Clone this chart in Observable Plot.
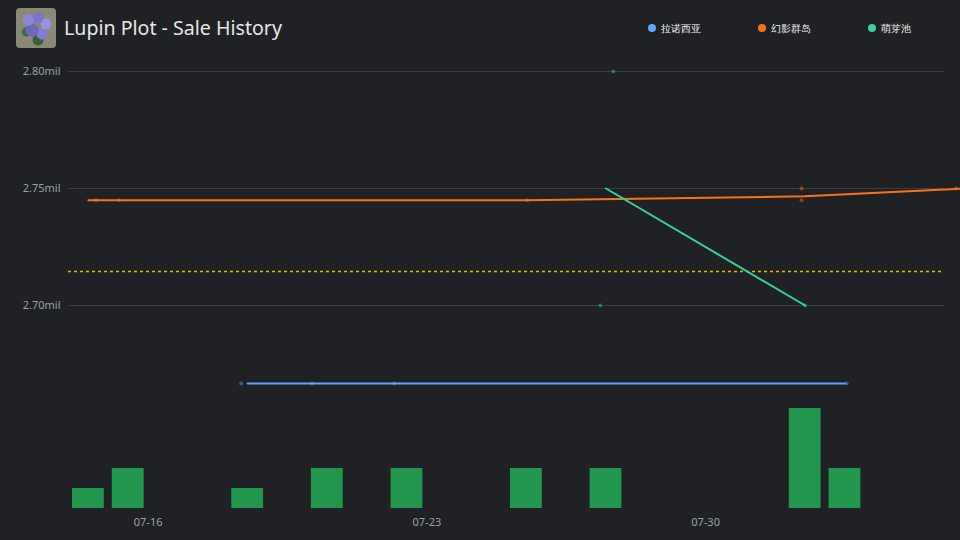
<!DOCTYPE html>
<html><head><meta charset="utf-8">
<script src="https://cdn.jsdelivr.net/npm/d3@7"></script>
<script src="https://cdn.jsdelivr.net/npm/@observablehq/plot@0.6"></script>
<style>
html,body{margin:0;padding:0;background:#202124;width:960px;height:540px;overflow:hidden;font-family:"Noto Sans",sans-serif;}
#header{position:relative;height:56px;width:960px;}
#icon{position:absolute;left:16px;top:8px;width:40px;height:40px;border-radius:4px;
 background:
  radial-gradient(circle at 30% 30%, #8f86d8 0 5px, transparent 6px),
  radial-gradient(circle at 55% 25%, #7d73cc 0 5px, transparent 6px),
  radial-gradient(circle at 75% 40%, #9b92e0 0 5px, transparent 6px),
  radial-gradient(circle at 40% 55%, #6f66c0 0 6px, transparent 7px),
  radial-gradient(circle at 65% 65%, #857cd2 0 5px, transparent 6px),
  radial-gradient(circle at 25% 60%, #3f6b3a 0 4px, transparent 5px),
  radial-gradient(circle at 55% 80%, #3b5f36 0 5px, transparent 6px),
  #8a8877;}
#title{position:absolute;left:64px;top:18px;font-size:19.6px;line-height:20px;color:#e6e6e6;white-space:nowrap;}
.lg{position:absolute;top:22px;height:12px;display:flex;align-items:center;font-size:10px;color:#f0f0f0;white-space:nowrap;}
.lg .dot{width:8px;height:8px;border-radius:50%;margin-right:5px;}
#chart{position:relative;width:960px;height:484px;}
#chart svg{position:absolute;left:0;top:0;}
</style></head><body>
<div id="header">
 <div id="icon"></div>
 <div id="title">Lupin Plot - Sale History</div>
</div>
<div id="chart"></div>
<script>
// ---- data ----
const seriesNames = ["拉诺西亚", "幻影群岛", "萌芽池"];
const seriesColors = ["#60a5fa", "#f97316", "#34d399"];

// individual sales (time, price)
const blueSaleTimes = ["2023-07-18T08:05Z", "2023-07-20T02:50Z", "2023-07-22T04:20Z", "2023-08-02T13:00Z"];
const blueSalePrices = [2666667, 2666667, 2666667, 2666667];
const orangeSaleTimes = ["2023-07-14T16:40Z", "2023-07-15T06:30Z", "2023-07-25T12:30Z", "2023-08-01T09:50Z", "2023-08-01T09:50Z", "2023-08-05T07:00Z"];
const orangeSalePrices = [2745000, 2745000, 2745000, 2750000, 2745000, 2750000];
const greenSaleTimes = ["2023-07-27T08:35Z", "2023-07-27T16:20Z", "2023-08-01T12:00Z"];
const greenSalePrices = [2700000, 2800000, 2700000];

// daily average prices
const blueAvgDays = ["2023-07-18", "2023-07-20", "2023-07-22", "2023-08-02"];
const blueAvgPrices = [2666667, 2666667, 2666667, 2666667];
const orangeAvgDays = ["2023-07-14", "2023-07-15", "2023-07-25", "2023-08-01", "2023-08-05"];
const orangeAvgPrices = [2745000, 2745000, 2745000, 2746667, 2750000];
const greenAvgDays = ["2023-07-27", "2023-08-01"];
const greenAvgPrices = [2750000, 2700000];

// daily volume
const volumeDays = ["2023-07-14", "2023-07-15", "2023-07-18", "2023-07-20", "2023-07-22", "2023-07-25", "2023-07-27", "2023-08-01", "2023-08-02"];
const volumeQty = [1, 2, 1, 2, 2, 2, 2, 5, 2];

const meanPrice = 2714500;
const yTicks = [2700000, 2750000, 2800000];
const xTicks = ["2023-07-16", "2023-07-23", "2023-07-30"];
const xDomain = ["2023-07-14", "2023-08-05"];

// ---- build ----
const parse = s => new Date(s.length === 10 ? s + "T00:00:00Z" : s);
const noon = s => d3.utcHour.offset(parse(s), 12);
const sales = (times, prices, k) => times.map((t, i) => ({t: parse(t), p: prices[i], k}));
const avgs = (days, prices, k) => days.map((d, i) => ({t: noon(d), p: prices[i], k}));
const salesAll = [
  ...sales(blueSaleTimes, blueSalePrices, 0),
  ...sales(orangeSaleTimes, orangeSalePrices, 1),
  ...sales(greenSaleTimes, greenSalePrices, 2)
];
const avgSeries = [
  avgs(blueAvgDays, blueAvgPrices, 0),
  avgs(orangeAvgDays, orangeAvgPrices, 1),
  avgs(greenAvgDays, greenAvgPrices, 2)
];
const volume = volumeDays.map((d, i) => ({d0: parse(d), d1: d3.utcDay.offset(parse(d), 1), q: volumeQty[i]}));

const W = 960, H = 484;
const xOpt = {type: "utc", domain: xDomain.map(parse), label: null};
const common = {width: W, height: H, marginLeft: 68, marginRight: 16,
  style: {background: "transparent", color: "#9aa0a6", fontSize: "11px", fontFamily: "Noto Sans, sans-serif", overflow: "visible"}};

const bars = Plot.plot({
  ...common, marginTop: 352, marginBottom: 32,
  x: {...xOpt, axis: null},
  y: {domain: [0, 5], axis: null, label: null},
  marks: [
    Plot.rectY(volume, {x1: "d0", x2: "d1", y: "q", fill: "#22964f", insetLeft: 4, insetRight: 4})
  ]
});

const fmt = d => (d / 1e6).toFixed(2) + "mil";
const lines = Plot.plot({
  ...common, marginTop: 5, marginBottom: 32,
  x: xOpt,
  y: {domain: [2613248, 2804274], label: null},
  marks: [
    Plot.gridY(yTicks, {stroke: "#3a3c41", strokeOpacity: 1}),
    Plot.axisY(yTicks, {tickSize: 0, tickPadding: 8, tickFormat: fmt, fill: "#9aa0a6", label: null}),
    Plot.axisX(xTicks.map(parse), {tickSize: 0, tickPadding: 10, tickFormat: d3.utcFormat("%m-%d"), fill: "#9aa0a6", label: null}),
    Plot.ruleY([meanPrice], {stroke: "#e5b80b", strokeDasharray: "3,3", strokeWidth: 1.5}),
    ...avgSeries.map(s => Plot.line(s, {x: "t", y: "p", stroke: seriesColors[s[0].k], strokeWidth: 2})),
    Plot.dot(salesAll, {x: "t", y: "p", r: 2, fill: d => seriesColors[d.k], fillOpacity: 0.45, stroke: "none"})
  ]
});

const chart = document.getElementById("chart");
chart.appendChild(bars);
chart.appendChild(lines);

// legend
const header = document.getElementById("header");
seriesNames.forEach((n, i) => {
  const el = document.createElement("div");
  el.className = "lg";
  el.style.left = (648 + i * 110) + "px";
  el.innerHTML = `<span class="dot" style="background:${seriesColors[i]}"></span><span>${n}</span>`;
  header.appendChild(el);
});
</script>
</body></html>
